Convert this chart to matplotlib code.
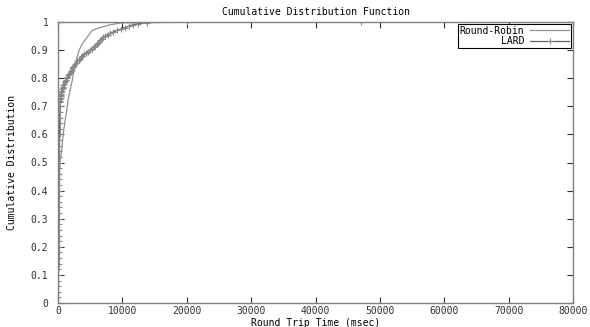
#CDF of round trip times, Round-Robin vs LARD
import matplotlib
matplotlib.use('Agg')
import matplotlib.pyplot as plt
import numpy as np

#Round-Robin
rr_time = [0, 50, 100, 150, 200, 300, 600, 800, 1100, 1400, 1550, 1900, 2200,
           2500, 2900, 3300, 3700, 4500, 5300, 6500, 8100, 9900, 18000]
rr_cdf = [0, 0.1, 0.2, 0.3, 0.4, 0.5, 0.55, 0.6, 0.65, 0.69, 0.72, 0.76, 0.79,
          0.83, 0.87, 0.9, 0.92, 0.945, 0.97, 0.98, 0.99, 0.997, 1.0]

#LARD
lard_time = [0, 30, 45, 55, 62, 70, 76, 82, 88, 94, 100, 106, 112, 118, 124,
             130, 136, 142, 148, 154, 160, 166, 172, 180, 188, 196, 204, 212,
             222, 232, 242, 254, 266, 280, 296, 314, 336, 360, 380, 400, 420,
             450, 480, 520, 560, 620, 700, 780, 850, 950, 1050, 1150, 1250,
             1350, 1450, 1550, 1650, 1800, 1950, 2100, 2250, 2400, 2550, 2700,
             2850, 3000, 3200, 3400, 3600, 3800, 4100, 4400, 4700, 5000, 5300,
             5600, 5800, 6000, 6200, 6400, 6600, 6800, 7000, 7300, 7700, 8100,
             8600, 9200, 9800, 10400, 11000, 11600, 12500, 13800, 20000, 47000]
lard_cdf = [0, 0.02, 0.04, 0.06, 0.08, 0.10, 0.12, 0.14, 0.16, 0.18, 0.20,
            0.22, 0.24, 0.26, 0.28, 0.30, 0.32, 0.34, 0.36, 0.38, 0.40, 0.42,
            0.44, 0.46, 0.48, 0.50, 0.52, 0.54, 0.56, 0.58, 0.60, 0.62, 0.64,
            0.66, 0.68, 0.70, 0.715, 0.72, 0.725, 0.73, 0.735, 0.74, 0.745,
            0.75, 0.755, 0.76, 0.765, 0.77, 0.775, 0.78, 0.785, 0.79, 0.795,
            0.80, 0.805, 0.81, 0.815, 0.82, 0.825, 0.83, 0.835, 0.84, 0.845,
            0.85, 0.855, 0.86, 0.865, 0.87, 0.875, 0.88, 0.885, 0.89, 0.895,
            0.90, 0.905, 0.91, 0.915, 0.92, 0.925, 0.93, 0.935, 0.94, 0.945,
            0.95, 0.955, 0.96, 0.965, 0.97, 0.975, 0.98, 0.985, 0.99, 0.994,
            0.998, 0.999, 1.0]

xticks = np.arange(0, 80001, 10000)
yticks = np.round(np.arange(0, 1.01, 0.1), 1)

plt.rcParams['font.family'] = 'DejaVu Sans Mono'
plt.rcParams['font.size'] = 7

fig = plt.figure(figsize=(5.9, 3.27), dpi=100)
ax = fig.add_axes([58/590, 1-303/327, (573-58)/590, (303-22)/327])

ax.plot(rr_time, rr_cdf, color='#909090', lw=0.9, label='Round-Robin')
ax.plot(lard_time, lard_cdf, color='#606060', lw=0.9, marker='+',
        markersize=4, markeredgewidth=0.8, mec='#888888', label='LARD')

ax.set_xlim(0, 80000)
ax.set_ylim(0, 1)
ax.set_xticks(xticks)
ax.set_xticklabels([str(v) for v in xticks])
ax.set_yticks(yticks)
ax.set_yticklabels(['0' if v == 0 else ('1' if v == 1 else str(v)) for v in yticks])
ax.tick_params(direction='in', length=4, width=0.8, top=True, right=True,
               labelsize=7, colors='#303030')
ax.tick_params(axis='x', pad=2)
ax.tick_params(axis='y', pad=7)
for s in ax.spines.values():
    s.set_color('#808080')
    s.set_linewidth(1.0)

ax.set_title('Cumulative Distribution Function', fontsize=7, pad=5)
ax.set_xlabel('Round Trip Time (msec)', fontsize=7)
ax.xaxis.set_label_coords(0.5, -0.052, transform=ax.transAxes)
ax.xaxis.label.set_va('top')
ax.set_ylabel('Cumulative Distribution', fontsize=7)
ax.yaxis.set_label_coords(-0.089, 0.5, transform=ax.transAxes)
ax.yaxis.label.set_va('center')

leg = ax.legend(loc='upper right', markerfirst=False, fontsize=7,
                fancybox=False, edgecolor='black', framealpha=1,
                borderpad=0.15, handlelength=4, labelspacing=0.05,
                borderaxespad=0.25, handletextpad=0.6)
for t in leg.get_texts():
    t.set_ha('right')
leg.get_frame().set_linewidth(0.8)

fig.savefig('out.png', dpi=100)
